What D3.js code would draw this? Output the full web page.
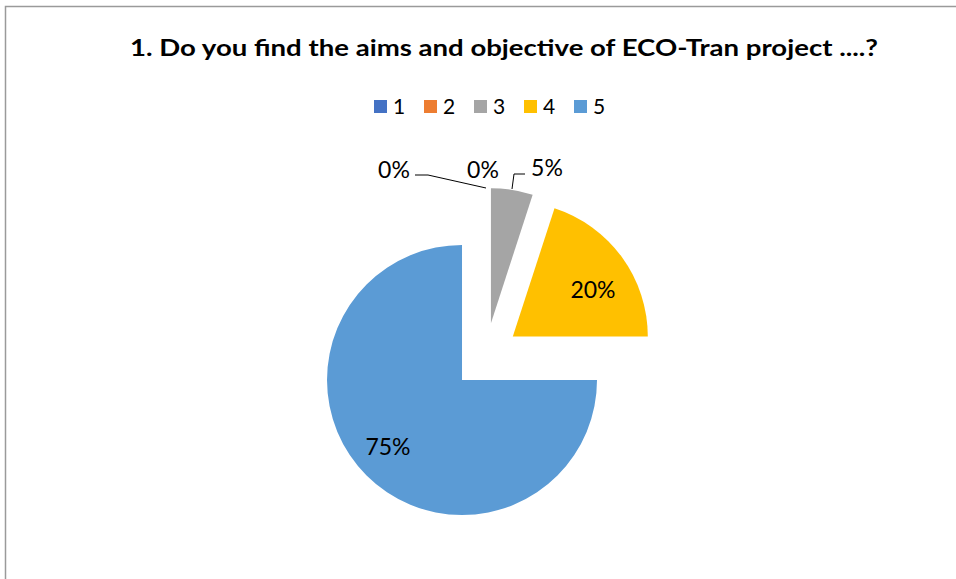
<!DOCTYPE html>
<html>
<head>
<meta charset="utf-8">
<script src="https://cdn.jsdelivr.net/npm/d3@7"></script>
<style>
  html, body { margin: 0; padding: 0; background: #fff; }
  svg { display: block; }
</style>
</head>
<body>
<svg id="chart" width="956" height="579"></svg>
<script>
const titleText = "1. Do you find the aims and objective of ECO-Tran project ....?";
const categories = ["1", "2", "3", "4", "5"];
const values = [0, 0, 5, 20, 75];
const labels = ["0%", "0%", "5%", "20%", "75%"];
const colors = ["#4472C4", "#ED7D31", "#A5A5A5", "#FFC000", "#5B9BD5"];

const svg = d3.select("#chart");
const font = "Lato, 'Open Sans', 'Liberation Sans', sans-serif";

// border
svg.append("rect")
  .attr("x", 5.5).attr("y", 6.5).attr("width", 960).attr("height", 600)
  .attr("fill", "none").attr("stroke", "#9a9a9a").attr("stroke-width", 1.5);

// title
svg.append("text")
  .attr("x", 504).attr("y", 56)
  .attr("text-anchor", "middle")
  .attr("font-family", font).attr("font-weight", "bold").attr("font-size", 23)
  .attr("textLength", 748).attr("lengthAdjust", "spacingAndGlyphs")
  .attr("fill", "#000")
  .text(titleText);

// legend
const legX = d3.scalePoint().domain(categories).range([374, 574]);
const leg = svg.append("g").selectAll("g").data(categories).join("g")
  .attr("transform", d => `translate(${legX(d)},0)`);
leg.append("rect").attr("x", 0).attr("y", 100).attr("width", 13).attr("height", 13)
  .attr("fill", (d, i) => colors[i]);
leg.append("text").attr("x", 19).attr("y", 114)
  .attr("font-family", font).attr("font-size", 21).attr("fill", "#000")
  .text(d => d);

// pie
const cx = 485.7, cy = 356.3, r = 135, explode = 33.5;
const pie = d3.pie().sort(null).value(d => d)
  .startAngle(0).endAngle(2 * Math.PI);
const arcs = pie(values);
const arc = d3.arc().innerRadius(0).outerRadius(r);

function offset(a) {
  const m = (a.startAngle + a.endAngle) / 2;
  return [explode * Math.sin(m), -explode * Math.cos(m)];
}

const g = svg.append("g").attr("transform", `translate(${cx},${cy})`);
const slices = g.selectAll("g.slice").data(arcs).join("g").attr("class", "slice")
  .attr("transform", d => { const o = offset(d); return `translate(${o[0]},${o[1]})`; });
slices.filter(d => d.value > 0).append("path")
  .attr("d", arc)
  .attr("fill", d => colors[d.index]);

// label layout (page coordinates of label centres), leader lines
const labelLayout = [
  { x: 394, y: 170, line: [[415, 175], [428, 175], [486, 188]] },
  { x: 483, y: 170, line: null },
  { x: 547, y: 168, line: [[512, 189], [514, 174], [525, 174]] },
  { x: 593, y: 290, line: null },
  { x: 388, y: 447, line: null }
];
labelLayout.forEach((o, i) => {
  svg.append("text")
    .attr("x", o.x).attr("y", o.y).attr("dy", "0.36em")
    .attr("text-anchor", "middle")
    .attr("font-family", font).attr("font-size", 23).attr("fill", "#000")
    .text(labels[i]);
  if (o.line) {
    svg.append("path")
      .attr("d", d3.line()(o.line))
      .attr("fill", "none").attr("stroke", "#000").attr("stroke-width", 1);
  }
});
</script>
</body>
</html>
